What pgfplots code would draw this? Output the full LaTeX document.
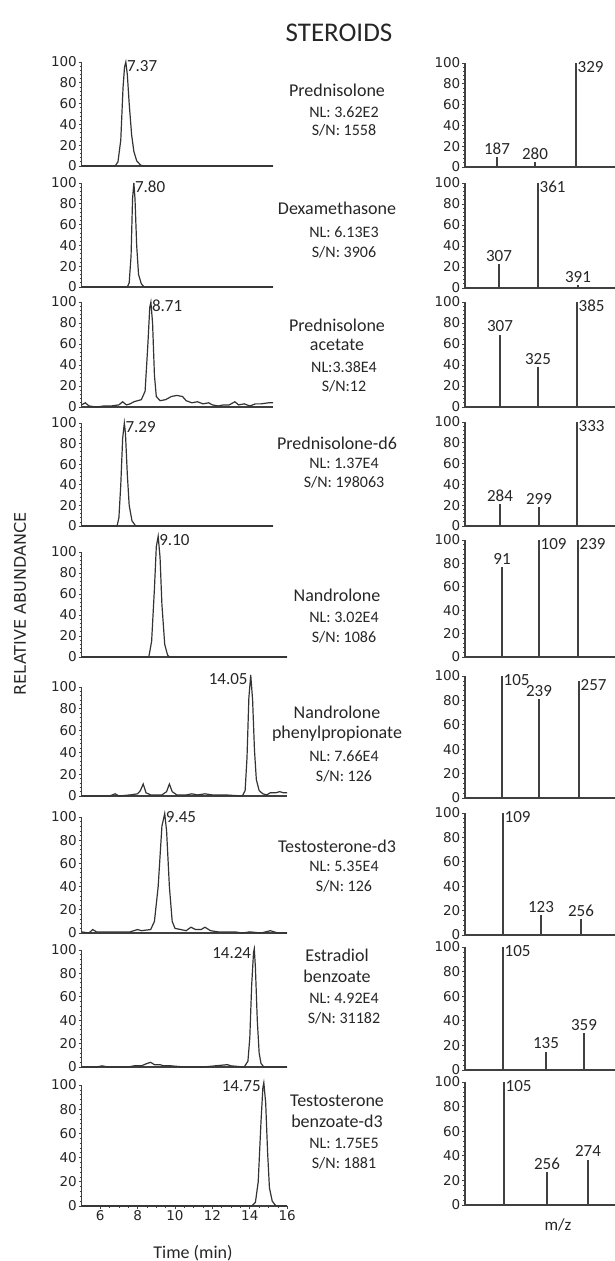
\documentclass[border=0pt]{standalone}
\usepackage{fontspec}
\setmainfont{Carlito}
\newfontfamily\numfont{DejaVu Sans}
\usepackage{pgfplots}
\pgfplotsset{compat=1.18}

\newcommand{\nf}{\numfont\fontsize{13.5}{13.5}\selectfont}
\newcommand{\lf}{\fontsize{17}{17}\selectfont}

\pgfplotsset{
  panel/.style={scale only axis, clip=false, anchor=south west,
    axis lines=left, axis line style={-, line width=1.3pt, black!75},
    ymin=0, ymax=100, ytick={0,20,...,100}, minor y tick num=4, xtick=\empty,
    tick align=outside, major tick length=3pt, minor tick length=2pt,
    every tick/.style={black!75, line width=0.7pt},
    tick label style={font=\nf, inner sep=1.5pt, black!85},
    /pgf/number format/assume math mode=true},
  lp/.style={panel, xmin=5, xmax=16, width=205.7pt},
  ls/.style={panel, xmin=5, xmax=15.25, width=191.7pt},
  rp/.style={panel, xmin=0, xmax=150, width=150pt},
  tr/.style={black!80, line width=1.2pt, mark=none},
  st/.style={ycomb, black!75, line width=1.3pt, mark=none},
  labR/.style={nodes near coords, point meta=explicit symbolic,
    nodes near coords style={font=\lf, black!85, anchor=west, yshift=-4pt, inner sep=1pt}},
  labA/.style={nodes near coords, point meta=explicit symbolic,
    nodes near coords style={font=\lf, black!85, anchor=south, yshift=1pt, inner sep=1pt}},
  labL/.style={nodes near coords, point meta=explicit symbolic,
    nodes near coords style={font=\lf, black!85, anchor=east, xshift=-2pt, yshift=-4pt, inner sep=1pt}},
}

\begin{document}
\begin{tikzpicture}
\useasboundingbox (0,0) rectangle (615pt,-1261pt);

% ---------- chromatograms (left) ----------
\begin{axis}[ls, at={(81.5pt,-166pt)}, height=104pt]
\addplot[tr] coordinates {(5,0)(6.8,0)(6.95,4)(7.1,25)(7.22,75)(7.3,95)(7.37,100)(7.45,88)(7.55,60)(7.68,30)(7.8,14)(7.95,5)(8.15,1)(8.3,0)(15.25,0)};
\addplot[draw=none, labR] coordinates {(7.37,100)[7.37]};
\end{axis}

\begin{axis}[ls, at={(81.5pt,-287pt)}, height=104pt]
\addplot[tr] coordinates {(5,0)(7.45,0)(7.55,4)(7.65,30)(7.73,85)(7.8,100)(7.86,85)(7.95,40)(8.05,12)(8.2,3)(8.35,0)(15.25,0)};
\addplot[draw=none, labR] coordinates {(7.80,100)[7.80]};
\end{axis}

\begin{axis}[ls, at={(81.5pt,-407pt)}, height=105pt]
\addplot[tr] coordinates {(5,2)(5.2,4)(5.4,1)(5.8,0)(6.2,1)(6.6,1)(7.0,2)(7.2,5)(7.4,2)(7.6,3)(7.8,5)(8.0,6)(8.2,7)(8.4,15)(8.55,60)(8.65,95)(8.71,100)(8.8,80)(8.9,30)(9.0,10)(9.2,6)(9.5,7)(9.8,10)(10.1,11)(10.4,10)(10.6,6)(10.9,4)(11.2,5)(11.5,3)(11.8,4)(12.0,2)(12.3,1)(12.6,2)(12.9,2)(13.2,5)(13.4,2)(13.7,3)(14.0,1)(14.3,3)(14.6,3)(15.0,4)(15.25,4)};
\addplot[draw=none, labR] coordinates {(8.71,100)[8.71]};
\end{axis}

\begin{axis}[ls, at={(81.5pt,-526pt)}, height=103pt]
\addplot[tr] coordinates {(5,0)(6.9,0)(7.0,8)(7.1,40)(7.2,85)(7.29,100)(7.35,90)(7.45,50)(7.55,20)(7.7,5)(7.9,0)(15.25,0)};
\addplot[draw=none, labR] coordinates {(7.29,100)[7.29]};
\end{axis}

\begin{axis}[lp, at={(81.5pt,-657pt)}, height=105pt]
\addplot[tr] coordinates {(5,0)(8.6,0)(8.75,15)(8.9,65)(9.0,105)(9.1,115)(9.2,95)(9.3,50)(9.45,12)(9.6,2)(9.7,0)(16,0)};
\addplot[draw=none, labR] coordinates {(9.10,115)[9.10]};
\end{axis}

\begin{axis}[lp, at={(81.5pt,-796pt)}, height=109pt]
\addplot[tr] coordinates {(5,0)(6.5,0)(6.8,2)(7.0,0)(7.6,1)(8.0,2)(8.15,5)(8.3,11)(8.45,3)(8.7,1)(9.0,1)(9.3,1)(9.55,4)(9.7,11)(9.85,4)(10.1,1)(10.6,1)(10.9,2)(11.2,1)(11.6,2)(12.0,1)(12.7,1)(13.6,0)(13.75,5)(13.85,35)(13.95,90)(14.05,111)(14.15,88)(14.25,42)(14.35,15)(14.5,5)(14.7,2)(14.9,1)(15.1,3)(15.4,3)(15.6,4)(15.8,3)(16,3)};
\addplot[draw=none, labL] coordinates {(14.05,111)[14.05]};
\end{axis}

\begin{axis}[lp, at={(81.5pt,-933pt)}, height=116pt]
\addplot[tr] coordinates {(5,1)(5.4,0)(5.6,3)(5.8,1)(6.2,1)(6.6,1)(7.0,1)(7.6,1)(8.0,3)(8.2,2)(8.7,3)(8.9,10)(9.1,40)(9.3,92)(9.45,103)(9.55,88)(9.7,40)(9.85,10)(10.0,4)(10.3,3)(10.6,2)(10.85,5)(11.1,3)(11.4,3)(11.6,5)(11.9,2)(12.3,1)(12.8,1)(13.2,1)(13.6,0)(14.0,1)(14.6,0)(15.1,2)(15.5,0)(16,0)};
\addplot[draw=none, labR] coordinates {(9.45,103)[9.45]};
\end{axis}

\begin{axis}[lp, at={(81.5pt,-1067pt)}, height=117pt]
\addplot[tr] coordinates {(5,0)(5.8,0)(6.1,1)(6.4,0)(7.5,0)(7.8,1)(8.2,1)(8.5,3)(8.7,4)(8.9,2)(9.2,2)(9.4,1)(9.8,1)(10.5,0)(11.5,0)(12.8,2)(13.0,1)(13.7,0)(13.9,5)(14.0,25)(14.1,70)(14.2,98)(14.24,101)(14.3,85)(14.4,40)(14.5,12)(14.6,3)(14.75,0)(16,0)};
\addplot[draw=none, labL] coordinates {(14.24,101)[14.24]};
\end{axis}

\begin{axis}[lp, at={(81.5pt,-1206pt)}, height=121pt,
  xtick={6,8,...,16}, minor x tick num=3]
\addplot[tr] coordinates {(5,0)(14.1,0)(14.3,3)(14.45,20)(14.6,70)(14.7,98)(14.75,102)(14.85,85)(14.95,45)(15.05,15)(15.2,4)(15.4,0)(16,0)};
\addplot[draw=none, labL] coordinates {(14.75,102)[14.75]};
\end{axis}

% ---------- mass spectra (right) ----------
\begin{axis}[rp, at={(465pt,-167pt)}, height=104pt]
\addplot[st, labR] coordinates {(111,100)[329]};
\addplot[st, labA] coordinates {(32,9.5)[187] (70,5)[280]};
\end{axis}

\begin{axis}[rp, at={(465pt,-288pt)}, height=105pt]
\addplot[st, labR] coordinates {(73,100)[361]};
\addplot[st, labA] coordinates {(34,23)[307] (113,3)[391]};
\end{axis}

\begin{axis}[rp, at={(465pt,-407pt)}, height=105pt]
\addplot[st, labR] coordinates {(112,100)[385]};
\addplot[st, labA] coordinates {(35,69)[307] (73,38)[325]};
\end{axis}

\begin{axis}[rp, at={(465pt,-526pt)}, height=104pt]
\addplot[st, labR] coordinates {(112,100)[333]};
\addplot[st, labA] coordinates {(35,21)[284] (74,18)[299]};
\end{axis}

\begin{axis}[rp, at={(465pt,-657pt)}, height=117pt]
\addplot[st, labR] coordinates {(74,100)[109] (113,100)[239]};
\addplot[st, labA] coordinates {(37,77)[91]};
\end{axis}

\begin{axis}[rp, at={(465pt,-798pt)}, height=122pt]
\addplot[st, labR] coordinates {(37,100)[105] (114,96)[257]};
\addplot[st, labA] coordinates {(74,81)[239]};
\end{axis}

\begin{axis}[rp, at={(465pt,-935pt)}, height=122pt]
\addplot[st, labR] coordinates {(38,100)[109]};
\addplot[st, labA] coordinates {(76,16)[123] (116,13)[256]};
\end{axis}

\begin{axis}[rp, at={(465pt,-1070pt)}, height=123pt]
\addplot[st, labR] coordinates {(38,100)[105]};
\addplot[st, labA] coordinates {(81,15)[135] (119,30)[359]};
\end{axis}

\begin{axis}[rp, at={(465pt,-1205pt)}, height=123pt]
\addplot[st, labR] coordinates {(39,100)[105]};
\addplot[st, labA] coordinates {(82,27)[256] (123,37)[274]};
\end{axis}

% ---------- texts ----------
\node[font=\fontsize{27}{27}\selectfont, black!85] at (339pt,-33pt) {STEROIDS};
\node[font=\numfont\fontsize{16}{16}\selectfont, rotate=90, black!85] at (20pt,-604pt) {RELATIVE ABUNDANCE};
\node[font=\fontsize{18}{18}\selectfont, black!85] at (193pt,-1253pt) {Time (min)};
\node[font=\fontsize{17}{17}\selectfont, black!85] at (558pt,-1225pt) {m/z};

\begin{scope}[every node/.style={black!85}]
\newcommand{\nm}[2]{\node[font=\fontsize{18}{18}\selectfont] at (337pt,-#1pt) {#2};}
\newcommand{\nl}[2]{\node[font=\fontsize{16}{16}\selectfont] at (344pt,-#1pt) {#2};}
\nm{90}{Prednisolone}\nl{112}{NL: 3.62E2}\nl{130}{S/N: 1558}
\nm{208}{Dexamethasone}\nl{232}{NL: 6.13E3}\nl{252}{S/N: 3906}
\nm{325}{Prednisolone}\nm{345}{acetate}\nl{367}{NL:3.38E4}\nl{386}{S/N:12}
\nm{443}{Prednisolone-d6}\nl{463}{NL: 1.37E4}\nl{482}{S/N: 198063}
\nm{595}{Nandrolone}\nl{617}{NL: 3.02E4}\nl{637}{S/N: 1086}
\nm{712}{Nandrolone}\nm{734}{phenylpropionate}\nl{756}{NL: 7.66E4}\nl{776}{S/N: 126}
\nm{846}{Testosterone-d3}\nl{866}{NL: 5.35E4}\nl{886}{S/N: 126}
\nm{955}{Estradiol}\nm{976}{benzoate}\nl{998}{NL: 4.92E4}\nl{1018}{S/N: 31182}
\nm{1101}{Testosterone}\nm{1121}{benzoate-d3}\nl{1143}{NL: 1.75E5}\nl{1163}{S/N: 1881}
\end{scope}
\end{tikzpicture}
\end{document}
